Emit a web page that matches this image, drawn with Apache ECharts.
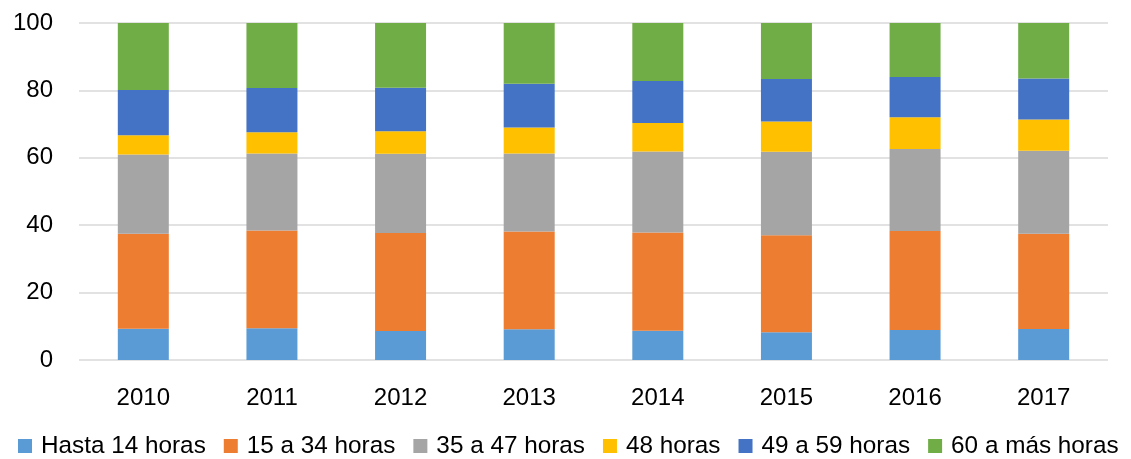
<!DOCTYPE html>
<html>
<head>
<meta charset="utf-8">
<script src="https://cdn.jsdelivr.net/npm/echarts@6/dist/echarts.min.js"></script>
<style>html,body{margin:0;padding:0;background:#fff;}#c{width:1131px;height:459px;}</style>
</head>
<body>
<div id="c"></div>
<script>
const categories = ['2010','2011','2012','2013','2014','2015','2016','2017'];
const seriesNames = ['Hasta 14 horas','15 a 34 horas','35 a 47 horas','48 horas','49 a 59 horas','60 a más horas'];
const hasta14 = [9.3, 9.4, 8.6, 9.1, 8.7, 8.2, 8.9, 9.2];
const h15a34 = [28.2, 29.0, 29.1, 29.0, 29.1, 28.8, 29.4, 28.3];
const h35a47 = [23.5, 22.9, 23.5, 23.2, 24.1, 24.8, 24.3, 24.6];
const h48 = [5.7, 6.3, 6.7, 7.7, 8.4, 9.0, 9.4, 9.3];
const h49a59 = [13.4, 13.1, 12.9, 13.0, 12.5, 12.6, 12.0, 12.1];
const h60mas = [19.9, 19.3, 19.2, 18.0, 17.2, 16.6, 16.0, 16.5];
const colors = ['#5B9BD5','#ED7D31','#A5A5A5','#FFC000','#4472C4','#70AD47'];
const allData = [hasta14, h15a34, h35a47, h48, h49a59, h60mas];

const font = 'Liberation Sans';
const chart = echarts.init(document.getElementById('c'));
chart.setOption({
  animation: false,
  grid: { left: 79, right: 23, top: 23, bottom: 99, containLabel: false },
  legend: {
    data: seriesNames,
    top: 434,
    left: 18,
    right: 0,
    padding: 0,
    itemWidth: 14,
    itemHeight: 14,
    itemGap: 18,
    icon: 'rect',
    textStyle: { fontFamily: font, fontSize: 24.3, color: '#000', padding: [0, 0, 0, 4] }
  },
  xAxis: {
    type: 'category',
    data: categories,
    axisLine: { show: false },
    axisTick: { show: false },
    axisLabel: { fontFamily: font, fontSize: 24, color: '#000', margin: 26 }
  },
  yAxis: {
    type: 'value',
    min: 0, max: 100, interval: 20,
    axisLine: { show: false },
    axisTick: { show: false },
    splitLine: { lineStyle: { color: '#d9d9d9', width: 1.5 } },
    axisLabel: { fontFamily: font, fontSize: 24, color: '#000', margin: 26 }
  },
  series: seriesNames.map((n, i) => ({
    name: n,
    type: 'bar',
    stack: 'total',
    barWidth: 51,
    data: allData[i],
    itemStyle: { color: colors[i] }
  }))
});
</script>
</body>
</html>
